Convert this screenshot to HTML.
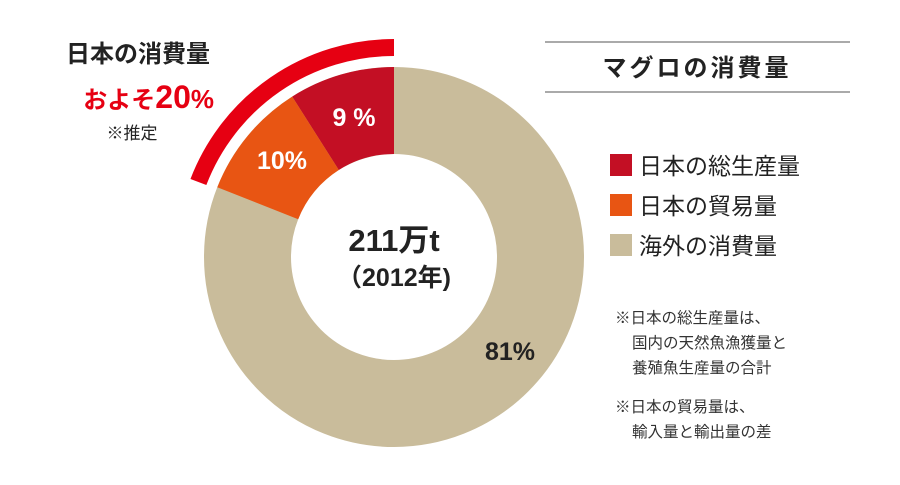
<!DOCTYPE html>
<html><head><meta charset="utf-8"><style>
body{margin:0;background:#fff;}
svg text{font-family:"Liberation Sans","Noto Sans CJK JP",sans-serif;}
</style></head><body>
<svg width="900" height="480" viewBox="0 0 900 480" xmlns="http://www.w3.org/2000/svg">
<g transform="translate(394,257)">
<circle r="146.5" fill="none" stroke="#c9bc9b" stroke-width="87"/>
<path d="M0,-190 A190,190 0 0 0 -101.8,-160.4 L-55.2,-87 A103,103 0 0 1 0,-103 Z" fill="#c30f24"/>
<path d="M-101.8,-160.4 A190,190 0 0 0 -176.7,-69.8 L-95.8,-37.8 A103,103 0 0 1 -55.2,-87 Z" fill="#e85513"/>
<path d="M0,-209.5 A209.5,209.5 0 0 0 -195.6,-75" fill="none" stroke="#e60012" stroke-width="17"/>
<text x="-40" y="-131" font-size="25" font-weight="bold" fill="#fff" text-anchor="middle">9 %</text>
<text x="-112" y="-88" font-size="25" font-weight="bold" fill="#fff" text-anchor="middle">10%</text>
<text x="116" y="103" font-size="25" font-weight="bold" fill="#222" text-anchor="middle">81%</text>
<text x="0" y="-6" font-size="31" font-weight="bold" fill="#222" text-anchor="middle">211万t</text>
<text x="0" y="29" font-size="25" font-weight="bold" fill="#222" text-anchor="middle">（2012年)</text>
</g>
<text x="138" y="62" font-size="24" font-weight="bold" fill="#222" text-anchor="middle">日本の消費量</text>
<text x="214" y="108" font-size="24" font-weight="bold" fill="#e60012" text-anchor="end">およそ<tspan font-size="32">20</tspan><tspan font-size="26">%</tspan></text>
<text x="132" y="139" font-size="17" fill="#222" text-anchor="middle">※推定</text>
<line x1="545" y1="42" x2="850" y2="42" stroke="#555" stroke-width="1"/>
<line x1="545" y1="92" x2="850" y2="92" stroke="#555" stroke-width="1"/>
<text x="697" y="76" font-size="24" font-weight="bold" fill="#222" text-anchor="middle" letter-spacing="3">マグロの消費量</text>
<rect x="610" y="154" width="22" height="22" fill="#c30f24"/>
<rect x="610" y="194" width="22" height="22" fill="#e85513"/>
<rect x="610" y="234" width="22" height="22" fill="#c9bc9b"/>
<text x="639" y="174" font-size="23" fill="#222">日本の総生産量</text>
<text x="639" y="214" font-size="23" fill="#222">日本の貿易量</text>
<text x="639" y="254" font-size="23" fill="#222">海外の消費量</text>
<g font-size="15.5" fill="#333">
<text x="615" y="323">※日本の総生産量は、</text>
<text x="632" y="348">国内の天然魚漁獲量と</text>
<text x="632" y="373">養殖魚生産量の合計</text>
<text x="615" y="412">※日本の貿易量は、</text>
<text x="632" y="437">輸入量と輸出量の差</text>
</g>
</svg>
</body></html>
